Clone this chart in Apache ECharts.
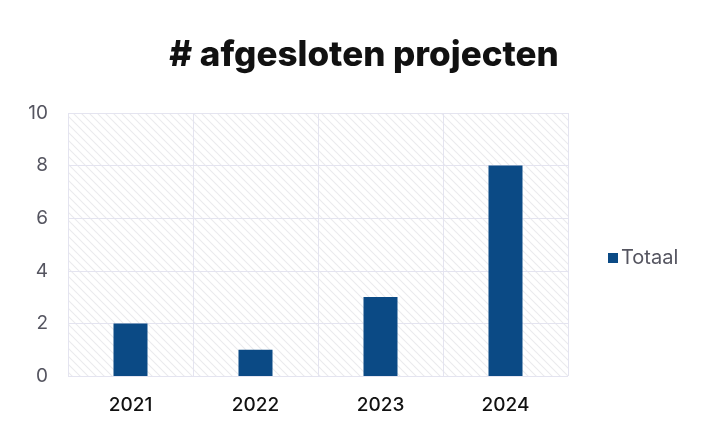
<!DOCTYPE html>
<html><head><meta charset="utf-8">
<script src="https://cdn.jsdelivr.net/npm/echarts@6/dist/echarts.min.js"></script>
<style>html,body{margin:0;padding:0;background:#fff}#c{width:709px;height:425px}</style>
</head><body><div id="c"></div>
<script>
const categories = ['2021','2022','2023','2024'];
const totaal = [2, 1, 3, 8];
const yTicks = [0, 2, 4, 6, 8, 10];

function hatch(){
  const c = document.createElement('canvas');
  c.width = 8; c.height = 8;
  const g = c.getContext('2d');
  g.fillStyle = '#ffffff'; g.fillRect(0,0,8,8);
  g.strokeStyle = '#ebebee'; g.lineWidth = 1.1;
  g.beginPath();
  g.moveTo(0,0); g.lineTo(8,8);
  g.moveTo(-4,4); g.lineTo(4,12);
  g.moveTo(4,-4); g.lineTo(12,4);
  g.stroke();
  return {image: c, repeat: 'repeat'};
}

const chart = echarts.init(document.getElementById('c'));
chart.setOption({
  animation: false,
  title: {
    text: '# afgesloten projecten', left: 359, top: 33, textAlign: 'center',
    textStyle: {fontFamily: 'Inter', fontWeight: 800, fontSize: 35, color: '#111'}
  },
  legend: {
    data: ['Totaal'], orient: 'vertical', left: 603, top: 243,
    itemWidth: 10, itemHeight: 10, itemGap: 4, icon: 'rect',
    textStyle: {fontFamily: 'Inter', fontSize: 20, color: '#555560', padding: [0,0,0,-2]}
  },
  grid: {
    left: 68, top: 113, width: 500, height: 263, show: true,
    backgroundColor: hatch(), borderWidth: 0
  },
  xAxis: {
    type: 'category', data: categories,
    axisLine: {show: false}, axisTick: {show: false},
    splitLine: {show: true, lineStyle: {color: '#e4e4f0', width: 1}},
    axisLabel: {margin: 20, fontFamily: 'Inter', fontSize: 19, fontWeight: 500, color: '#111'}
  },
  yAxis: {
    type: 'value', min: yTicks[0], max: yTicks[yTicks.length-1], interval: 2,
    axisLine: {show: false}, axisTick: {show: false},
    splitLine: {lineStyle: {color: '#e4e4f0', width: 1}},
    axisLabel: {margin: 20, fontFamily: 'Inter', fontSize: 19, color: '#555560'}
  },
  series: [{
    name: 'Totaal', type: 'bar', data: totaal, barWidth: 34,
    itemStyle: {color: '#0b4a85'}
  }]
});
</script></body></html>
